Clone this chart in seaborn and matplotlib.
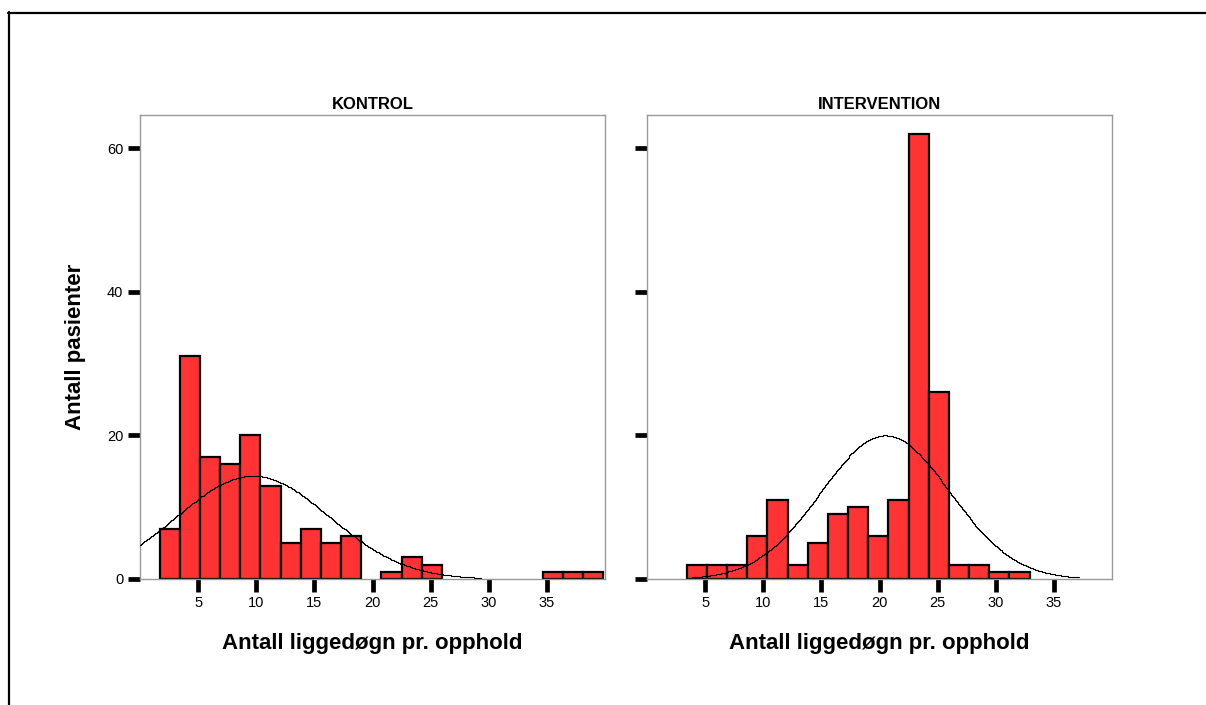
import numpy as np
import pandas as pd
import matplotlib
matplotlib.use("Agg")
import matplotlib.pyplot as plt
from matplotlib.lines import Line2D
import seaborn as sns

# ---------------- data ----------------
BIN_START = 1.68
BIN_WIDTH = 1.735
N_BINS = 22

kontrol_counts = [7, 31, 17, 16, 20, 13, 5, 7, 5, 6, 0, 1, 3, 2, 0, 0, 0, 0, 0, 1, 1, 1]
intervention_counts = [0, 2, 2, 2, 6, 11, 2, 5, 9, 10, 6, 11, 62, 26, 2, 2, 1, 1, 0, 0, 0, 0]

# fitted normal curves (mean, sd)
kontrol_fit = (9.7, 6.55)
intervention_fit = (20.5, 5.54)

panel_titles = ["KONTROL", "INTERVENTION"]
x_ticks = [5, 10, 15, 20, 25, 30, 35]
y_ticks = [0, 20, 40, 60]
x_label = "Antall liggedøgn pr. opphold"
y_label = "Antall pasienter"

# ---------------- figure ----------------
sns.set_theme(style="white")
plt.rcParams["font.family"] = ["Liberation Sans", "DejaVu Sans"]
plt.rcParams["text.color"] = "black"
plt.rcParams["axes.labelcolor"] = "black"
plt.rcParams["xtick.color"] = "black"
plt.rcParams["ytick.color"] = "black"

W, H = 1206, 705
fig = plt.figure(figsize=(W / 100, H / 100), dpi=100)
fig.patch.set_facecolor("white")

def fx(px):
    return px / W

def fy(py):
    return 1 - py / H

ax_l = fig.add_axes([fx(140), fy(579), fx(605) - fx(140), fy(115) - fy(579)])
ax_r = fig.add_axes([fx(647), fy(579), fx(1112) - fx(647), fy(115) - fy(579)])

edges = [float(BIN_START + BIN_WIDTH * i) for i in range(N_BINS + 1)]
centers = [(edges[i] + edges[i + 1]) / 2 for i in range(N_BINS)]

for ax, counts, fit, title, show_y in [
    (ax_l, kontrol_counts, kontrol_fit, panel_titles[0], True),
    (ax_r, intervention_counts, intervention_fit, panel_titles[1], False),
]:
    df = pd.DataFrame({"x": centers, "n": counts})
    sns.histplot(data=df, x="x", weights="n", bins=edges, ax=ax,
                 color="#ff3333", alpha=1.0, edgecolor="black", linewidth=1.6)
    # drop empty bins (SPSS draws nothing there)
    for p in list(ax.patches):
        if p.get_height() <= 0:
            p.remove()

    n_total = sum(counts)
    mu, sd = fit
    xs = np.linspace(mu - 3 * sd, mu + 3 * sd, 400)
    ys = n_total * BIN_WIDTH * np.exp(-0.5 * ((xs - mu) / sd) ** 2) / (sd * np.sqrt(2 * np.pi))
    sns.lineplot(x=xs, y=ys, ax=ax, color="black", linewidth=0.8,
                 drawstyle="steps-mid", zorder=5)

    ax.set_xlim(0, 40)
    ax.set_ylim(0, 64.6)
    ax.set_xticks(x_ticks)
    ax.set_yticks(y_ticks)
    ax.set_xticklabels([str(t) for t in x_ticks], fontsize=10.5, color="black")
    if show_y:
        ax.set_yticklabels([str(t) for t in y_ticks], fontsize=10.5, color="black")
        ax.set_ylabel(y_label, fontsize=16, fontweight="bold", labelpad=15, color="black")
    else:
        ax.set_yticklabels([])
        ax.set_ylabel("")
    ax.set_xlabel(x_label, fontsize=16, fontweight="bold", labelpad=17, color="black")
    ax.set_title(title, fontsize=12, fontweight="bold", pad=4, color="black")
    ax.tick_params(axis="both", which="major", direction="out", length=9,
                   width=3.4, color="black", labelcolor="black", pad=3,
                   left=True, bottom=True)
    for s in ax.spines.values():
        s.set_visible(True)
        s.set_color("#999999")
        s.set_linewidth(1.0)
    ax.grid(False)
    ax.set_facecolor("white")

# outer frame (top and left edges only)
fig.add_artist(Line2D([fx(8), 1.0], [fy(13), fy(13)], color="black", linewidth=1.6))
fig.add_artist(Line2D([fx(9), fx(9)], [fy(12), 0.0], color="black", linewidth=1.6))

fig.savefig("out.png", dpi=100, facecolor="white")
